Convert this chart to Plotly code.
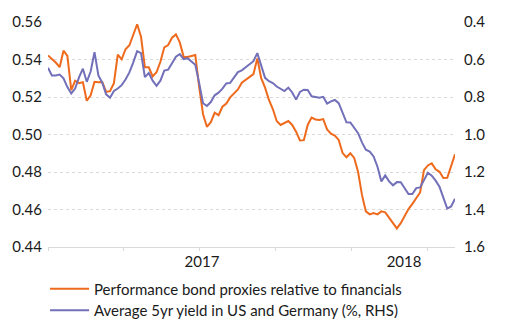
import pandas as pd
import plotly.graph_objects as go

# Weekly observations, end of March 2016 to early April 2018
start_date = "2016-03-29"
n_weeks = 106
dates = pd.date_range(start_date, periods=n_weeks, freq="7D")

# Relative performance of bond proxies vs financials (LHS)
bond_proxies = [
    0.5422, 0.5403, 0.5384, 0.5359, 0.5447, 0.5419, 0.5237, 0.5287, 0.5274, 0.5279,
    0.5180, 0.5209, 0.5281, 0.5279, 0.5280, 0.5227, 0.5231, 0.5274, 0.5426, 0.5401,
    0.5455, 0.5476, 0.5533, 0.5588, 0.5521, 0.5358, 0.5358, 0.5310, 0.5332, 0.5388,
    0.5465, 0.5477, 0.5516, 0.5534, 0.5491, 0.5414, 0.5414, 0.5419, 0.5424, 0.5253,
    0.5108, 0.5041, 0.5066, 0.5116, 0.5103, 0.5148, 0.5165, 0.5198, 0.5218, 0.5240,
    0.5276, 0.5293, 0.5308, 0.5322, 0.5406, 0.5300, 0.5250, 0.5184, 0.5136, 0.5072,
    0.5051, 0.5061, 0.5072, 0.5051, 0.5015, 0.4968, 0.4970, 0.5051, 0.5090, 0.5080,
    0.5077, 0.5082, 0.5027, 0.5004, 0.4994, 0.4971, 0.4901, 0.4879, 0.4900, 0.4875,
    0.4800, 0.4678, 0.4590, 0.4574, 0.4581, 0.4574, 0.4590, 0.4585, 0.4554, 0.4530,
    0.4499, 0.4527, 0.4564, 0.4602, 0.4630, 0.4660, 0.4691, 0.4810, 0.4835, 0.4846,
    0.4814, 0.4801, 0.4768, 0.4769, 0.4830, 0.4895,
]

# Average 5yr government yield, US and Germany, % (RHS, inverted)
avg_5yr_yield = [
    0.644, 0.685, 0.685, 0.680, 0.700, 0.747, 0.781, 0.755, 0.695, 0.649,
    0.719, 0.664, 0.561, 0.685, 0.724, 0.786, 0.804, 0.768, 0.755, 0.737,
    0.707, 0.669, 0.615, 0.555, 0.566, 0.694, 0.672, 0.713, 0.740, 0.713,
    0.659, 0.654, 0.620, 0.585, 0.571, 0.598, 0.593, 0.612, 0.628, 0.726,
    0.833, 0.848, 0.827, 0.791, 0.777, 0.755, 0.728, 0.725, 0.698, 0.667,
    0.658, 0.642, 0.623, 0.609, 0.566, 0.633, 0.698, 0.716, 0.726, 0.744,
    0.755, 0.768, 0.750, 0.776, 0.814, 0.773, 0.761, 0.763, 0.796, 0.801,
    0.804, 0.799, 0.835, 0.823, 0.816, 0.833, 0.882, 0.935, 0.936, 0.965,
    0.993, 1.042, 1.081, 1.091, 1.117, 1.172, 1.250, 1.218, 1.250, 1.271,
    1.254, 1.255, 1.286, 1.317, 1.317, 1.286, 1.282, 1.239, 1.204, 1.220,
    1.246, 1.279, 1.335, 1.395, 1.384, 1.343,
]

series_names = [
    "Performance bond proxies relative to financials",
    "Average 5yr yield in US and Germany (%, RHS)",
]
year_ticks = ["2017-01-01", "2018-01-01"]
year_labels = ["2017", "2018"]
left_ticks = [0.44, 0.46, 0.48, 0.50, 0.52, 0.54, 0.56]
right_ticks = [0.4, 0.6, 0.8, 1.0, 1.2, 1.4, 1.6]

ORANGE = "#EE6A1C"
PURPLE = "#7270B8"
FONT = "Lato"
colors = [ORANGE, PURPLE]

fig = go.Figure()
fig.add_trace(go.Scatter(
    x=dates, y=bond_proxies, mode="lines", name=series_names[0],
    line=dict(color=ORANGE, width=2), showlegend=False,
))
fig.add_trace(go.Scatter(
    x=dates, y=avg_5yr_yield, mode="lines", yaxis="y2", name=series_names[1],
    line=dict(color=PURPLE, width=2), showlegend=False,
))

# Key below the plot: a short coloured line and the series name per row
key_rows_y = [-0.186, -0.281]
for name, color, ky in zip(series_names, colors, key_rows_y):
    fig.add_shape(type="line", xref="paper", yref="paper",
                  x0=0.005, x1=0.101, y0=ky, y1=ky,
                  line=dict(color=color, width=2))
    fig.add_annotation(xref="paper", yref="paper", x=0.108, y=ky,
                       xanchor="left", yanchor="middle", showarrow=False,
                       text=name, font=dict(family=FONT, size=15, color="#1a1a1a"))

fig.update_layout(
    width=512, height=321,
    margin=dict(l=40, r=57, t=15, b=74),
    paper_bgcolor="white", plot_bgcolor="white",
    font=dict(family=FONT, size=15, color="#1a1a1a"),
    showlegend=False,
    xaxis=dict(
        range=[dates[0], dates[-1]],
        tickvals=year_ticks, ticktext=year_labels,
        ticks="", showgrid=False,
        showline=True, linecolor="#d9d9d9", linewidth=1,
        ticklabelstandoff=1,
        minor=dict(ticks="outside", ticklen=3, tickcolor="#d9d9d9",
                   tick0=dates[0], dtick=137 * 86400000, showgrid=False),
    ),
    yaxis=dict(
        range=[0.44, 0.56], tickvals=left_ticks,
        ticktext=[f"{v:.2f}" for v in left_ticks],
        showgrid=True, gridcolor="#d9d9d9", griddash="dot", gridwidth=1,
        zeroline=False, showline=False, ticks="", ticklabelstandoff=5,
    ),
    yaxis2=dict(
        range=[1.6, 0.4], overlaying="y", side="right",
        tickvals=right_ticks,
        ticktext=[f"{v:.1f}" for v in right_ticks],
        showgrid=False, zeroline=False, showline=False, ticks="",
        ticklabelstandoff=8,
    ),
)

fig.write_html("out.html")
